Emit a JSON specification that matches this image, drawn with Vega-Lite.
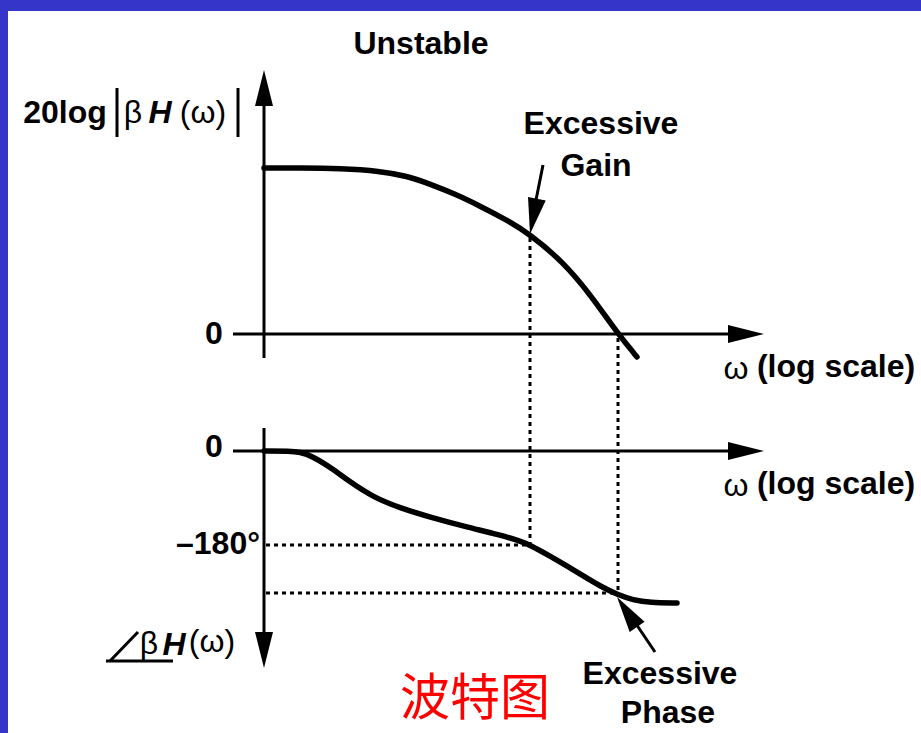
{
  "$schema": "https://vega.github.io/schema/vega-lite/v6.json",
  "width": 921,
  "height": 733,
  "autosize": {"type": "fit", "contains": "padding"},
  "padding": {"left": 8, "top": 11, "right": 0, "bottom": 0},
  "background": "#3535c9",
  "config": {"view": {"stroke": null, "fill": "white"}},
  "datasets": {
    "curves": [
      {"curve": "gain", "x": 264, "y": 168}, {"curve": "gain", "x": 300, "y": 168}, {"curve": "gain", "x": 340, "y": 168.5},
      {"curve": "gain", "x": 380, "y": 171}, {"curve": "gain", "x": 407, "y": 176}, {"curve": "gain", "x": 430, "y": 184},
      {"curve": "gain", "x": 455, "y": 194}, {"curve": "gain", "x": 480, "y": 206}, {"curve": "gain", "x": 505, "y": 219},
      {"curve": "gain", "x": 530, "y": 234}, {"curve": "gain", "x": 563, "y": 262}, {"curve": "gain", "x": 590, "y": 294},
      {"curve": "gain", "x": 618, "y": 334}, {"curve": "gain", "x": 637, "y": 357},
      {"curve": "phase", "x": 264, "y": 451}, {"curve": "phase", "x": 290, "y": 451}, {"curve": "phase", "x": 300, "y": 452},
      {"curve": "phase", "x": 312, "y": 456}, {"curve": "phase", "x": 333, "y": 469}, {"curve": "phase", "x": 350, "y": 482},
      {"curve": "phase", "x": 373, "y": 497}, {"curve": "phase", "x": 400, "y": 508}, {"curve": "phase", "x": 433, "y": 518},
      {"curve": "phase", "x": 467, "y": 527}, {"curve": "phase", "x": 500, "y": 535}, {"curve": "phase", "x": 520, "y": 541},
      {"curve": "phase", "x": 530, "y": 545}, {"curve": "phase", "x": 550, "y": 556}, {"curve": "phase", "x": 567, "y": 566},
      {"curve": "phase", "x": 585, "y": 577}, {"curve": "phase", "x": 600, "y": 586}, {"curve": "phase", "x": 618, "y": 595},
      {"curve": "phase", "x": 633, "y": 600}, {"curve": "phase", "x": 650, "y": 602.5}, {"curve": "phase", "x": 677, "y": 603}
    ],
    "solid": [
      {"x": 264, "y": 80, "x2": 264, "y2": 358},
      {"x": 233, "y": 334, "x2": 740, "y2": 334},
      {"x": 233, "y": 451, "x2": 740, "y2": 451},
      {"x": 264, "y": 428, "x2": 264, "y2": 655},
      {"x": 543, "y": 165, "x2": 534, "y2": 210},
      {"x": 655, "y": 652, "x2": 628, "y2": 612},
      {"x": 117, "y": 88, "x2": 117, "y2": 137},
      {"x": 238, "y": 88, "x2": 238, "y2": 137},
      {"x": 110, "y": 661, "x2": 138, "y2": 632},
      {"x": 106, "y": 661, "x2": 173, "y2": 661}
    ],
    "dotted": [
      {"x": 530, "y": 238, "x2": 530, "y2": 545},
      {"x": 618, "y": 338, "x2": 618, "y2": 594},
      {"x": 266, "y": 545, "x2": 527, "y2": 545},
      {"x": 266, "y": 593, "x2": 614, "y2": 593}
    ],
    "arrows": [
      {"x": 264, "y": 70, "a": 0},
      {"x": 764, "y": 334, "a": 90},
      {"x": 764, "y": 451, "a": 90},
      {"x": 264, "y": 668, "a": 180},
      {"x": 530, "y": 234, "a": 191},
      {"x": 617, "y": 597, "a": 326}
    ],
    "bold": [
      {"t": "Unstable", "x": 421, "y": 44},
      {"t": "20log", "x": 65, "y": 113},
      {"t": "Excessive", "x": 601, "y": 124},
      {"t": "Gain", "x": 596, "y": 166},
      {"t": "0", "x": 214, "y": 334},
      {"t": "(log scale)", "x": 836, "y": 367},
      {"t": "0", "x": 214, "y": 447},
      {"t": "(log scale)", "x": 836, "y": 484},
      {"t": "–180°", "x": 218, "y": 544},
      {"t": "Excessive", "x": 660, "y": 674},
      {"t": "Phase", "x": 668, "y": 713}
    ],
    "normal": [
      {"t": "β", "x": 133, "y": 113},
      {"t": "(ω)", "x": 203, "y": 113},
      {"t": "ω", "x": 736, "y": 369},
      {"t": "ω", "x": 736, "y": 486},
      {"t": "β", "x": 149, "y": 644},
      {"t": "(ω)", "x": 212, "y": 642}
    ],
    "italic": [
      {"t": "H", "x": 160, "y": 113},
      {"t": "H", "x": 174, "y": 645}
    ],
    "red": [
      {"t": "波特图", "x": 475, "y": 700}
    ]
  },
  "encoding": {
    "x": {"field": "x", "type": "quantitative", "scale": {"domain": [8, 921], "nice": false, "zero": false}, "axis": null},
    "y": {"field": "y", "type": "quantitative", "scale": {"domain": [733, 11], "nice": false, "zero": false}, "axis": null}
  },
  "layer": [
    {
      "data": {"name": "solid"},
      "mark": {"type": "rule", "color": "black", "strokeWidth": 3},
      "encoding": {"x2": {"field": "x2"}, "y2": {"field": "y2"}}
    },
    {
      "data": {"name": "dotted"},
      "mark": {"type": "rule", "color": "black", "strokeWidth": 3, "strokeDash": [4, 4]},
      "encoding": {"x2": {"field": "x2"}, "y2": {"field": "y2"}}
    },
    {
      "data": {"name": "curves"},
      "mark": {"type": "line", "color": "black", "strokeWidth": 5.5, "interpolate": "basis", "strokeCap": "round"},
      "encoding": {"detail": {"field": "curve"}}
    },
    {
      "data": {"name": "arrows"},
      "mark": {"type": "point", "shape": "M0,0L-1,4L1,4Z", "filled": true, "color": "black", "opacity": 1, "size": 324},
      "encoding": {"angle": {"field": "a", "type": "quantitative", "scale": null}}
    },
    {
      "data": {"name": "bold"},
      "mark": {"type": "text", "font": "Liberation Sans", "fontWeight": "bold", "fontSize": 32, "color": "black", "align": "center", "baseline": "middle"},
      "encoding": {"text": {"field": "t"}}
    },
    {
      "data": {"name": "normal"},
      "mark": {"type": "text", "font": "Liberation Sans", "fontSize": 32, "color": "black", "align": "center", "baseline": "middle"},
      "encoding": {"text": {"field": "t"}}
    },
    {
      "data": {"name": "italic"},
      "mark": {"type": "text", "font": "Liberation Sans", "fontWeight": "bold", "fontStyle": "italic", "fontSize": 32, "color": "black", "align": "center", "baseline": "middle"},
      "encoding": {"text": {"field": "t"}}
    },
    {
      "data": {"name": "red"},
      "mark": {"type": "text", "font": "Noto Sans CJK SC", "fontSize": 50, "color": "#ff0000", "align": "center", "baseline": "middle"},
      "encoding": {"text": {"field": "t"}}
    }
  ]
}
